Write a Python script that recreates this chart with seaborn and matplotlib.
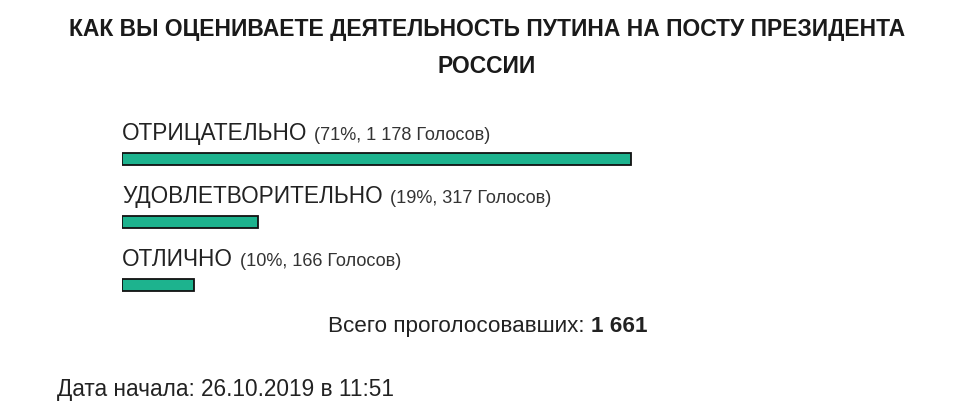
import matplotlib
matplotlib.use("Agg")
import matplotlib.pyplot as plt
import seaborn as sns
import pandas as pd

title_lines = ["КАК ВЫ ОЦЕНИВАЕТЕ ДЕЯТЕЛЬНОСТЬ ПУТИНА НА ПОСТУ ПРЕЗИДЕНТА", "РОССИИ"]
categories = ["ОТРИЦАТЕЛЬНО", "УДОВЛЕТВОРИТЕЛЬНО", "ОТЛИЧНО"]
percents = [71, 19, 10]
votes = ["1 178", "317", "166"]
total_label = "Всего проголосовавших: "
total_value = "1 661"
start_label = "Дата начала: 26.10.2019 в 11:51"

sns.set_theme(style="white")
plt.rcParams["font.family"] = ["Liberation Sans", "DejaVu Sans"]

df = pd.DataFrame({"cat": categories, "pct": percents})

fig = plt.figure(figsize=(9.6, 4.09), dpi=100)
fig.patch.set_facecolor("white")
W, H = 960, 409
# axes: x 0..100 -> px 122..839 ; rows centred at 159, 222, 285 px
ax = fig.add_axes([122 / W, (H - 316.5) / H, 717 / W, 189 / H])
sns.barplot(data=df, y="cat", x="pct", orient="h", ax=ax, color="#1db38e",
            width=0.175, edgecolor="#111111", linewidth=1.3, saturation=1)
ax.set_xlim(0, 100)
ax.set_ylim(2.5, -0.5)
ax.axis("off")

for i, (c, p, v) in enumerate(zip(categories, percents, votes)):
    t = ax.text(0, i - 0.30, c, fontsize=16.3, color="#222222", va="baseline", ha="left")
    ax.annotate(f"({p}%, {v} Голосов)", xy=(1, 0), xycoords=t,
                xytext=(5, 0.8), textcoords="offset points",
                fontsize=13.1, color="#333333", va="bottom", ha="left")

fig.text(487 / W, 1 - 36 / H, title_lines[0], ha="center", va="baseline",
         fontsize=16.5, fontweight="bold", color="#1a1a1a")
fig.text(487 / W, 1 - 73 / H, title_lines[1], ha="center", va="baseline",
         fontsize=16.5, fontweight="bold", color="#1a1a1a")

t1 = fig.text(328 / W, 1 - 332 / H, total_label, ha="left", va="baseline",
              fontsize=16.2, color="#222222")
fig.canvas.draw()
r = fig.canvas.get_renderer()
bb = t1.get_window_extent(r)
fig.text(bb.x1 / W, 1 - 332 / H, total_value, ha="left", va="baseline",
         fontsize=16.2, fontweight="bold", color="#222222")

fig.text(57 / W, 1 - 396 / H, start_label, ha="left", va="baseline",
         fontsize=16.3, color="#222222")

fig.savefig("out.png", dpi=100, facecolor="white")
